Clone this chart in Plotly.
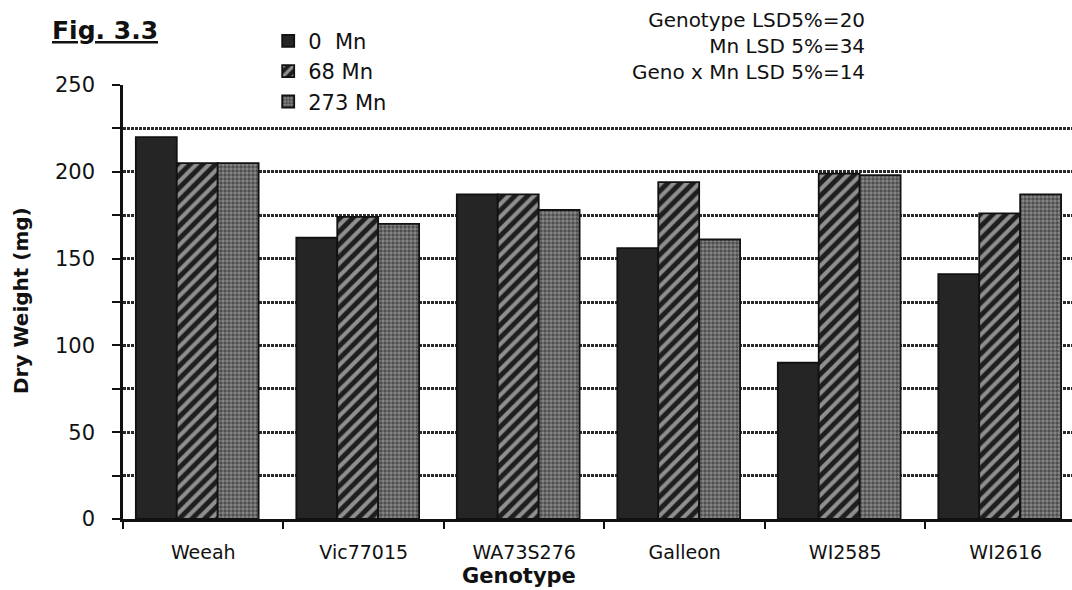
import plotly.graph_objects as go

# Dry weight (mg) of each genotype at three Mn levels
genotypes = ["Weeah", "Vic77015", "WA73S276", "Galleon", "WI2585", "WI2616"]
mn_levels = ["0  Mn", "68 Mn", "273 Mn"]
dw_0mn = [220, 162, 187, 156, 90, 141]
dw_68mn = [205, 174, 187, 194, 199, 176]
dw_273mn = [205, 170, 178, 161, 198, 187]

y_ticks = [0, 25, 50, 75, 100, 125, 150, 175, 200, 225, 250]
y_ticktext = ["0", "", "50", "", "100", "", "150", "", "200", "", "250"]
grid_vals = [25, 50, 75, 100, 125, 150, 175, 200, 225]

lsd_lines = ["Genotype LSD5%=20", "Mn LSD 5%=34", "Geno x Mn LSD 5%=14"]

FONT = "DejaVu Sans"

series = [dw_0mn, dw_68mn, dw_273mn]
patterns = [
    dict(shape=""),
    dict(shape="/", fgcolor="#ffffff", bgcolor="#1e1e1e", size=9, solidity=0.45),
    dict(shape=".", fgcolor="#111111", bgcolor="#8a8a8a", size=4, solidity=0.6),
]
fills = ["#252525", "#1e1e1e", "#5a5a5a"]
bar_w = 0.255
offsets = [-0.42, -0.165, 0.09]

fig = go.Figure()
for name, vals, pat, fill, off in zip(mn_levels, series, patterns, fills, offsets):
    fig.add_trace(go.Bar(
        x=genotypes, y=vals, name=name,
        width=bar_w, offset=off,
        marker=dict(color=fill, pattern=pat,
                    line=dict(color="#111111", width=1.8)),
    ))

# invisible anchor so the overlaying grid axis is rendered
fig.add_trace(go.Scatter(x=[genotypes[0]], y=[0], yaxis="y2",
                         mode="markers", marker=dict(opacity=0),
                         showlegend=False, hoverinfo="skip"))

fig.update_layout(
    width=1072, height=590,
    margin=dict(l=123, r=0, t=85, b=71),
    paper_bgcolor="white", plot_bgcolor="white",
    font=dict(family=FONT, size=19, color="#111111"),
    barmode="overlay",
    showlegend=True,
    legend=dict(x=0.153, y=1.148, xanchor="left", yanchor="top",
                font=dict(family=FONT, size=21, color="#111111"),
                bgcolor="rgba(0,0,0,0)", tracegroupgap=0,
                traceorder="normal"),
    xaxis=dict(
        type="category", range=[-0.5, 5.413],
        showline=True, linecolor="#111111", linewidth=3,
        ticks="outside", tickson="boundaries", ticklen=7, tickwidth=2,
        tickcolor="#111111", ticklabelstandoff=14,
        tickfont=dict(family=FONT, size=19, color="#111111"),
        showgrid=False, zeroline=False,
    ),
    yaxis=dict(
        range=[0, 250], tickmode="array", tickvals=y_ticks, ticktext=y_ticktext,
        showline=True, linecolor="#111111", linewidth=2.5,
        ticks="outside", ticklen=8, tickwidth=2, tickcolor="#111111",
        ticklabelstandoff=13,
        tickfont=dict(family=FONT, size=21, color="#111111"),
        showgrid=False, zeroline=False,
    ),
    yaxis2=dict(
        overlaying="y", range=[0, 250], tickmode="array", tickvals=grid_vals,
        showticklabels=False, ticks="", showline=False, zeroline=False,
        showgrid=True, gridcolor="#2a2a2a", gridwidth=2.5, griddash="3px,1px",
    ),
    annotations=[
        dict(text="<b><u>Fig. 3.3</u></b>", xref="paper", yref="paper",
             x=(105 - 123) / 949, y=1 + (85 - 31) / 434,
             xanchor="center", yanchor="middle", showarrow=False,
             font=dict(family=FONT, size=25, color="#111111")),
        dict(text="<br>".join(lsd_lines), xref="paper", yref="paper",
             x=(867 - 123) / 949, y=1 + (85 - 6) / 434,
             xanchor="right", yanchor="top", align="right", showarrow=False,
             font=dict(family=FONT, size=20, color="#111111")),
        dict(text="<b>Dry Weight (mg)</b>", xref="paper", yref="paper",
             x=(21 - 123) / 949, y=(519 - 301) / 434, textangle=-90,
             xanchor="center", yanchor="middle", showarrow=False,
             font=dict(family=FONT, size=20, color="#111111")),
        dict(text="<b>Genotype</b>", xref="paper", yref="paper",
             x=(519 - 123) / 949, y=-(576 - 519) / 434,
             xanchor="center", yanchor="middle", showarrow=False,
             font=dict(family=FONT, size=21, color="#111111")),
    ],
)

fig.write_html("out.html")
